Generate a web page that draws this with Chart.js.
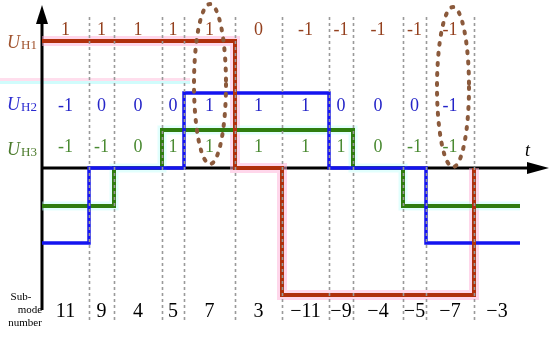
<!DOCTYPE html>
<html>
<head>
<meta charset="utf-8">
<script src="https://cdn.jsdelivr.net/npm/chart.js@4"></script>
<style>
  body { margin: 0; background: #fff; }
  canvas { display: block; }
</style>
</head>
<body>
<canvas id="wave" width="550" height="339"></canvas>
<script>
// switching instants (column boundaries along t)
var colBounds = [0, 47, 72, 120, 142, 193, 240, 287, 311, 361, 384, 432, 478];
// cell states per column, null = not drawn
var uh1States = [1, 1, 1, 1, 1, 0, -1, -1, -1, -1, -1, null];
var uh2States = [-1, 0, 0, 0, 1, 1, 1, 0, 0, 0, -1, -1];
var uh3States = [-1, -1, 0, 1, 1, 1, 1, 1, 0, -1, -1, -1];
// output level of each bridge
var uh1Level = 127;
var uh2Level = 75;
var uh3Level = 38;
// numbers written over the columns
var uh1Labels = ['1', '1', '1', '1', '1', '0', '-1', '-1', '-1', '-1', '-1'];
var uh2Labels = ['-1', '0', '0', '0', '1', '1', '1', '0', '0', '0', '-1'];
var uh3Labels = ['-1', '-1', '0', '1', '1', '1', '1', '1', '0', '-1', '-1'];
var subModes = ['11', '9', '4', '5', '7', '3', '\u221211', '\u22129', '\u22124', '\u22125', '\u22127', '\u22123'];

function stepPoints(states, level) {
    var pts = [];
    for (var i = 0; i < states.length; i++) {
        if (states[i] === null) {
            pts.push({ x: colBounds[i], y: 0 });
            break;
        }
        pts.push({ x: colBounds[i], y: states[i] * level });
        pts.push({ x: colBounds[i + 1], y: states[i] * level });
    }
    return pts;
}

function lineSet(data, color, width, order) {
    return {
        data: data,
        borderColor: color,
        borderWidth: width,
        pointRadius: 0,
        tension: 0,
        fill: false,
        order: order,
        borderJoinStyle: 'miter'
    };
}

var red = stepPoints(uh1States, uh1Level);
var blue = stepPoints(uh2States, uh2Level);
var green = stepPoints(uh3States, uh3Level);

var axisPlugin = {
    id: 'axes',
    beforeDatasetsDraw: function (chart) {
        var ctx = chart.ctx;
        var x0 = chart.scales.x.getPixelForValue(0);
        var y0 = chart.scales.y.getPixelForValue(0);
        ctx.save();
        // faint ghost bands seen in the figure
        ctx.fillStyle = 'rgba(255,200,225,0.6)';
        ctx.fillRect(0, 78, 190, 3);
        ctx.fillStyle = 'rgba(170,250,250,0.55)';
        ctx.fillRect(0, 81, 190, 3);
        ctx.strokeStyle = '#000';
        ctx.fillStyle = '#000';
        ctx.lineWidth = 3;
        ctx.beginPath();
        ctx.moveTo(x0, 310);
        ctx.lineTo(x0, 20);
        ctx.moveTo(x0, y0);
        ctx.lineTo(530, y0);
        ctx.stroke();
        // arrow heads
        ctx.beginPath();
        ctx.moveTo(x0, 5);
        ctx.lineTo(x0 - 6, 24);
        ctx.lineTo(x0 + 6, 24);
        ctx.closePath();
        ctx.fill();
        ctx.beginPath();
        ctx.moveTo(549, y0);
        ctx.lineTo(527, y0 - 6);
        ctx.lineTo(527, y0 + 6);
        ctx.closePath();
        ctx.fill();
        ctx.restore();
    }
};

var decoPlugin = {
    id: 'deco',
    afterDatasetsDraw: function (chart) {
        var ctx = chart.ctx;
        var xs = chart.scales.x;
        var i;
        ctx.save();
        // dashed column separators
        ctx.strokeStyle = '#9a9a9a';
        ctx.lineWidth = 1.6;
        ctx.setLineDash([3, 3]);
        for (i = 1; i < colBounds.length - 1; i++) {
            var px = Math.round(xs.getPixelForValue(colBounds[i])) + 0.5;
            ctx.beginPath();
            ctx.moveTo(px, 17);
            ctx.lineTo(px, 323);
            ctx.stroke();
        }
        ctx.setLineDash([]);

        // numbers in each column
        ctx.textAlign = 'center';
        ctx.textBaseline = 'middle';
        ctx.font = '18px "Liberation Serif"';
        for (i = 0; i < uh1Labels.length; i++) {
            var cx = xs.getPixelForValue((colBounds[i] + colBounds[i + 1]) / 2);
            ctx.fillStyle = '#94401e';
            ctx.fillText(uh1Labels[i], cx, 30);
            ctx.fillStyle = '#2424c8';
            ctx.fillText(uh2Labels[i], cx, 106);
            ctx.fillStyle = '#4a8a32';
            ctx.fillText(uh3Labels[i], cx, 147);
        }
        ctx.fillStyle = '#000';
        ctx.font = '20px "Liberation Serif"';
        for (i = 0; i < subModes.length; i++) {
            var bx = xs.getPixelForValue((colBounds[i] + colBounds[i + 1]) / 2);
            ctx.fillText(subModes[i], bx, 312);
        }

        // left names
        var names = [['H1', 43, '#a0522d'], ['H2', 105, '#2a2ad0'], ['H3', 150, '#4a7a2a']];
        names.forEach(function (n) {
            ctx.textAlign = 'left';
            ctx.fillStyle = n[2];
            ctx.font = 'italic 18px "Liberation Serif"';
            ctx.fillText('U', 7, n[1]);
            ctx.font = '13px "Liberation Serif"';
            ctx.fillText(n[0], 21, n[1] + 3);
        });
        ctx.fillStyle = '#000';
        ctx.font = 'italic 18px "Liberation Serif"';
        ctx.fillText('t', 525, 151);

        ctx.textAlign = 'center';
        ctx.font = '11px "Liberation Serif"';
        ctx.fillText('Sub-', 21, 297);
        ctx.fillText('mode', 30, 310);
        ctx.fillText('number', 25, 323);

        // dashed ellipses around the highlighted columns
        ctx.strokeStyle = '#8b5a3c';
        ctx.lineWidth = 4;
        ctx.lineCap = 'round';
        ctx.setLineDash([2, 8]);
        [[210, 84], [453, 87]].forEach(function (e) {
            ctx.beginPath();
            ctx.ellipse(e[0], e[1], 16, 80, 0, 0, Math.PI * 2);
            ctx.stroke();
        });
        ctx.restore();
    }
};

new Chart(document.getElementById('wave'), {
    type: 'line',
    data: {
        datasets: [
            lineSet(red, 'rgba(255,175,215,0.5)', 10, 10),
            lineSet(green, 'rgba(190,255,250,0.45)', 9, 9),
            lineSet(red, '#b0300c', 4, 1),
            lineSet(blue, '#1414f0', 3.5, 2),
            lineSet(green, '#2f7d0f', 4, 3)
        ]
    },
    options: {
        responsive: false,
        animation: false,
        devicePixelRatio: 1,
        layout: { padding: 0 },
        plugins: { legend: { display: false }, tooltip: { enabled: false } },
        scales: {
            x: { type: 'linear', min: -42, max: 508, display: false },
            y: { type: 'linear', min: -171, max: 168, display: false }
        }
    },
    plugins: [axisPlugin, decoPlugin]
});
</script>
</body>
</html>
